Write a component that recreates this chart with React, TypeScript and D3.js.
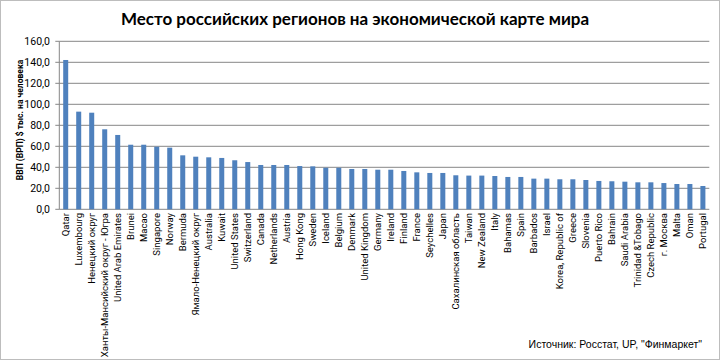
import React from 'react';
import * as d3 from 'd3';

const categories = [
  'Qatar', 'Luxembourg', 'Ненецкий  округ', 'Ханты-Мансийский округ - Югра', 'United Arab Emirates',
  'Brunei', 'Macao', 'Singapore', 'Norway', 'Bermuda', 'Ямало-Ненецкий  округ', 'Australia',
  'Kuwait', 'United States', 'Switzerland', 'Canada', 'Netherlands', 'Austria', 'Hong Kong',
  'Sweden', 'Iceland', 'Belgium', 'Denmark', 'United Kingdom', 'Germany', 'Ireland', 'Finland',
  'France', 'Seychelles', 'Japan', 'Сахалинская область', 'Taiwan', 'New Zealand', 'Italy',
  'Bahamas', 'Spain', 'Barbados', 'Israel', 'Korea, Republic of', 'Greece', 'Slovenia',
  'Puerto Rico', 'Bahrain', 'Saudi Arabia', 'Trinidad &Tobago', 'Czech Republic', 'г. Москва',
  'Malta', 'Oman', 'Portugal',
];

const gdp = [
  142.2, 93.0, 92.0, 76.2, 70.8, 61.5, 61.5, 59.6, 58.7, 51.4, 50.1, 49.5, 48.9, 46.7, 45.0,
  42.2, 42.2, 42.2, 41.2, 40.9, 39.6, 39.6, 38.4, 38.4, 37.7, 37.7, 36.5, 35.2, 34.6, 34.6,
  32.4, 32.1, 32.1, 31.7, 30.8, 30.8, 29.2, 29.2, 28.6, 28.6, 27.9, 27.0, 26.7, 26.3, 25.7,
  25.7, 25.0, 24.1, 24.1, 22.2,
];

const yTicks = [0, 20, 40, 60, 80, 100, 120, 140, 160];

const title = 'Место российских регионов на экономической карте мира';
const yTitle = 'ВВП (ВРП) $ тыс. на  человека';
const source = 'Источник: Росстат, UP, "Финмаркет"';

const labelFont = "Roboto, 'Noto Sans', sans-serif";

export default function App() {
  const width = 720;
  const height = 360;
  const left = 59.3;
  const right = 709.3;
  const top = 41.3;
  const bottom = 209.3;

  const x = d3.scaleBand<string>().domain(categories).range([left, right]).paddingInner(0.615).paddingOuter(0.3);
  const y = d3.scaleLinear().domain([0, 160]).range([bottom, top]);
  const fmt = (v: number) => v.toFixed(1).replace('.', ',');

  return (
    <svg width={width} height={height} style={{ position: 'absolute', left: 0, top: 0, background: '#fff' }}>
      <rect x={0.5} y={0.5} width={width - 1} height={height - 1} fill="#fff" stroke="#bdbdbd" />

      <text x={355} y={25} textAnchor="middle" fontFamily="Lato, 'Open Sans', sans-serif" fontWeight="bold" fontSize={17} fill="#000">
        {title}
      </text>

      {/* gridlines */}
      {yTicks.map(t => (
        <line key={t} x1={left} x2={right} y1={y(t)} y2={y(t)} stroke="#868686" strokeWidth={1} />
      ))}
      <line x1={left} x2={left} y1={top} y2={bottom} stroke="#868686" />

      {yTicks.map(t => (
        <g key={'t' + t}>
          <line x1={left - 4} x2={left} y1={y(t)} y2={y(t)} stroke="#868686" />
          <text x={50} y={y(t)} dy="0.35em" textAnchor="end" fontFamily={labelFont} fontSize={10.5} fill="#000">
            {fmt(t)}
          </text>
        </g>
      ))}

      <text transform={`translate(23,120) rotate(-90)`} textAnchor="middle" fontFamily={labelFont} fontWeight="bold" fontSize={8.5} fill="#000">
        {yTitle}
      </text>

      {categories.map((c, i) => (
        <rect key={c} x={x(c)} y={y(gdp[i])} width={x.bandwidth()} height={bottom - y(gdp[i])} fill="#4F81BD" />
      ))}

      {categories.map(c => {
        const cx = (x(c) ?? 0) + x.bandwidth() / 2;
        return (
          <text key={'l' + c} transform={`translate(${cx + 3.5},213) rotate(-90)`} textAnchor="end" fontFamily={labelFont} fontSize={9.5} fill="#000">
            {c}
          </text>
        );
      })}

      <text x={702} y={348} textAnchor="end" fontFamily="'Liberation Sans', Arial, sans-serif" fontSize={10.5} fill="#000">
        {source}
      </text>
    </svg>
  );
}
